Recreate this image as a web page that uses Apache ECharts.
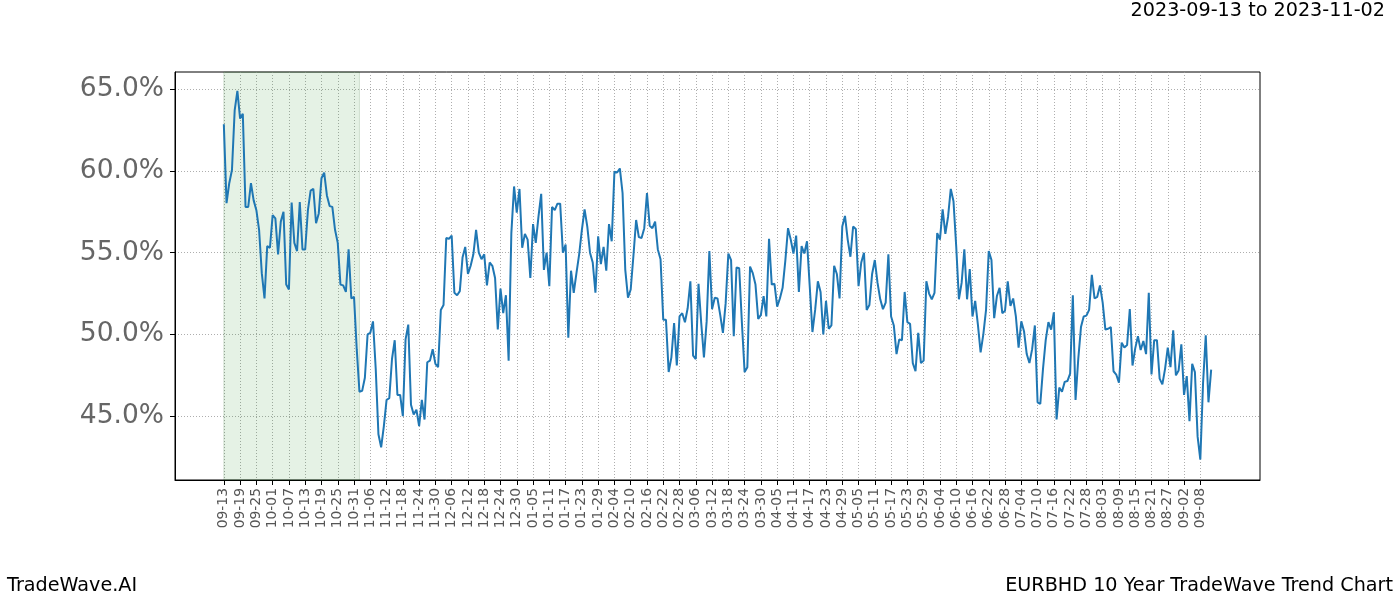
<!DOCTYPE html>
<html>
<head>
<meta charset="utf-8">
<script src="https://cdn.jsdelivr.net/npm/echarts@6/dist/echarts.min.js"></script>
<style>
html,body{margin:0;padding:0;background:#fff;}
#chart{width:1400px;height:600px;}
</style>
</head>
<body>
<div id="chart"></div>
<script>
// ---- data ----
const startDate = '2023-09-13';
const values = [
62.85,58.03,59.25,60.06,63.7,64.9,63.2,63.5,57.8,57.8,
59.25,58.2,57.6,56.4,53.75,52.2,55.4,55.3,57.3,57.1,
54.9,56.9,57.5,53.05,52.75,58.07,55.6,55.1,58.1,55.2,
55.2,57.6,58.8,58.9,56.8,57.4,59.55,59.9,58.5,57.85,
57.8,56.4,55.6,53.05,53.0,52.6,55.2,52.2,52.3,49.1,
46.5,46.55,47.35,50.0,50.1,50.8,47.9,43.9,43.1,44.4,
46.0,46.1,48.5,49.65,46.3,46.3,45.0,49.7,50.6,45.7,
45.1,45.4,44.4,46.0,44.8,48.3,48.4,49.1,48.2,48.0,
51.5,51.8,55.9,55.85,56.05,52.55,52.4,52.65,54.7,55.35,
53.7,54.2,54.9,56.4,55.0,54.6,54.9,53.0,54.4,54.2,
53.45,50.3,52.8,51.3,52.4,48.4,56.2,59.05,57.45,58.9,
55.3,56.15,55.8,53.45,56.75,55.6,57.2,58.6,53.95,55.0,
52.95,57.8,57.6,58.0,58.0,55.0,55.5,49.8,53.9,52.55,
53.75,54.9,56.4,57.65,56.6,55.0,54.4,52.55,56.0,54.3,
55.35,53.9,56.75,55.7,59.95,59.9,60.15,58.65,53.95,52.25,
52.75,54.8,57.0,55.95,55.9,56.5,58.65,56.65,56.5,56.9,
55.2,54.6,50.9,50.9,47.7,48.6,50.7,48.1,51.1,51.3,
50.75,51.6,53.25,48.7,48.5,53.1,50.7,48.6,50.8,55.1,
51.55,52.25,52.2,51.2,50.1,51.9,54.95,54.55,49.9,54.1,
54.05,50.7,47.7,48.0,54.15,53.75,53.05,50.95,51.2,
52.35,51.1,55.85,53.05,53.1,51.7,52.2,52.85,54.5,56.5,
55.8,54.95,56.05,52.6,55.4,54.95,55.7,52.95,50.15,51.5,
53.25,52.6,50.0,52.05,50.35,50.55,54.2,53.7,52.2,56.6,
57.25,55.8,54.75,56.6,56.45,52.95,54.4,55.0,51.5,51.8,
53.7,54.55,53.15,52.15,51.55,51.95,54.9,51.1,50.55,48.8,
49.7,49.65,52.6,50.75,50.65,48.25,47.75,50.1,48.25,48.4,
53.25,52.5,52.15,52.55,56.2,55.8,57.65,56.15,57.2,58.9,
58.15,55.4,52.15,53.15,55.2,52.15,54.0,51.1,52.05,50.6,
48.9,50.0,51.5,55.1,54.55,51.0,52.35,52.85,51.3,51.45,
53.25,51.75,52.2,51.1,49.2,50.8,50.2,48.8,48.25,49.1,
50.55,45.85,45.75,47.9,49.65,50.75,50.3,51.35,44.8,46.75,
46.5,47.1,47.15,47.6,52.4,46.0,48.5,50.45,51.1,51.15,
51.5,53.65,52.2,52.3,53.0,51.95,50.3,50.35,50.45,47.75,
47.55,47.05,49.5,49.2,49.35,51.55,48.1,49.15,49.9,49.05,
49.6,48.8,52.55,47.55,49.65,49.65,47.3,46.95,47.9,49.2,
48.0,50.25,47.5,47.8,49.4,46.3,47.45,44.7,48.2,47.7,
43.75,42.35,47.0,49.95,45.85,47.85
];
const yTicks = [45, 50, 55, 60, 65];
const highlightStart = '2023-09-13';
const highlightEnd = '2023-11-02';
const titleText = '2023-09-13 to 2023-11-02';
const leftFooter = 'TradeWave.AI';
const rightFooter = 'EURBHD 10 Year TradeWave Trend Chart';

// ---- axis scaffolding (calendar days, Feb 29 not present in the series) ----
const DAY = 86400000;
const padBefore = 18, padAfter = 18;
function fmt(ms){ return new Date(ms).toISOString().slice(0,10); }
const categories = [];
let ms = Date.UTC(2023, 8, 13) - padBefore * DAY;
while (categories.length < padBefore + values.length + padAfter) {
  const s = fmt(ms);
  if (s.slice(5) !== '02-29') categories.push(s);
  ms += DAY;
}
const lastLabelIdx = padBefore + 360;
function showTick(idx){ return idx >= padBefore && idx <= lastLabelIdx && (idx - padBefore) % 6 === 0; }
const seriesData = values.map((v, i) => [categories[padBefore + i], v]);

const chart = echarts.init(document.getElementById('chart'), null, {renderer:'canvas'});
const font = 'DejaVu Sans';
const tStyle = {fontFamily:font, fontSize:19.2, fontWeight:'normal', color:'#000'};
chart.setOption({
  animation: false,
  backgroundColor: '#fff',
  textStyle: {fontFamily: font},
  title: [
    {text: titleText, right: 15, top: 2, padding: 0, textStyle: tStyle},
    {text: leftFooter, left: 7, top: 577, padding: 0, textStyle: tStyle},
    {text: rightFooter, right: 7, top: 577, padding: 0, textStyle: tStyle}
  ],
  grid: {left:175, right:140, top:72, bottom:120, show:true, borderColor:'#000', borderWidth:1, backgroundColor:'transparent'},
  xAxis: {
    type:'category', data: categories, boundaryGap:false,
    axisLine:{lineStyle:{color:'#000', width:1}},
    axisTick:{show:true, interval:(i)=>showTick(i), length:5, lineStyle:{color:'#000'}},
    axisLabel:{interval:(i)=>showTick(i), rotate:90, fontSize:13.9, color:'#555', fontFamily:font, margin:8,
      formatter:(v)=>v.slice(5)},
    splitLine:{show:true, interval:(i)=>showTick(i), lineStyle:{color:'#999', type:[1,2], width:0.8}}
  },
  yAxis: {
    type:'value', min:41.1, max:66.05, splitNumber:5,
    axisLine:{show:true, lineStyle:{color:'#000'}},
    axisTick:{show:true, length:5, customValues: yTicks, lineStyle:{color:'#000'}},
    axisLabel:{fontSize:26.5, color:'#666', fontFamily:font, margin:11, customValues: yTicks,
      formatter:(v)=> Number(v).toFixed(1)+'%'},
    splitLine:{show:true, lineStyle:{color:'#999', type:[1,2], width:0.8}}
  },
  series: [{
    type:'line', data: seriesData, showSymbol:false, symbol:'none',
    lineStyle:{color:'#1f77b4', width:2}, itemStyle:{color:'#1f77b4'},
    markArea:{silent:true, itemStyle:{color:'rgba(0,128,0,0.1)', borderColor:'rgba(0,80,0,0.15)', borderWidth:1},
      data:[[{xAxis:highlightStart},{xAxis:highlightEnd}]]}
  }]
});
</script>
</body>
</html>
